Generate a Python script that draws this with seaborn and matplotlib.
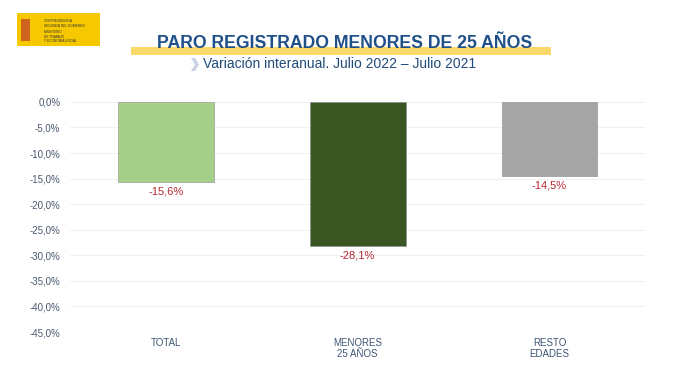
import pandas as pd
import seaborn as sns
import matplotlib.pyplot as plt
from matplotlib.patches import Rectangle, Polygon

categories = ["TOTAL", "MENORES\n25 AÑOS", "RESTO\nEDADES"]
values = [-15.6, -28.1, -14.5]
colors = ["#a6cf8b", "#3a5623", "#a5a5a5"]
yticks = [0, -5, -10, -15, -20, -25, -30, -35, -40, -45]

title = "PARO REGISTRADO MENORES DE 25 AÑOS"
subtitle = "Variación interanual. Julio 2022 – Julio 2021"

sns.set_style("white")
plt.rcParams["font.family"] = ["Liberation Sans", "DejaVu Sans"]

df = pd.DataFrame({"cat": categories, "val": values})

fig = plt.figure(figsize=(6.8, 3.83), dpi=100)
ax = fig.add_axes([0.103, 0.133, 0.846, 0.601])

sns.barplot(data=df, x="cat", y="val", hue="cat", palette=colors, saturation=1,
            legend=False, width=0.5, ax=ax, edgecolor="#8a8a8a", linewidth=0.4)

ax.set_xlim(-0.5, 2.5)
ax.set_ylim(-45, 0)
ax.set_yticks(yticks)
ax.set_yticklabels(["{:.1f}%".format(t).replace(".", ",") for t in yticks])
ax.yaxis.grid(True, color="#f0f0f0", linewidth=0.8)
ax.set_axisbelow(True)
for s in ax.spines.values():
    s.set_visible(False)
ax.tick_params(axis="y", labelsize=7, colors="#4a5a70", length=0, pad=7)
ax.tick_params(axis="x", labelsize=7, colors="#3d5575", length=0, pad=4)
ax.set_xlabel("")
ax.set_ylabel("")

for i, v in enumerate(values):
    ax.text(i, v - 0.9, "{:.1f}%".format(v).replace(".", ","), ha="center", va="top",
            fontsize=8, color="#b5282e")

# header: logo block
fig.patches.append(Rectangle((17 / 680, 1 - 46 / 383), 83 / 680, 33 / 383,
                             transform=fig.transFigure, facecolor="#f6c800", edgecolor="none"))
fig.patches.append(Rectangle((21 / 680, 1 - 41 / 383), 9 / 680, 22 / 383,
                             transform=fig.transFigure, facecolor="#c0392b", edgecolor="none", alpha=0.7))
fig.text(44 / 680, 1 - 19 / 383, "VICEPRESIDENCIA\nSEGUNDA DEL GOBIERNO", fontsize=2.3,
         color="#333333", va="top", linespacing=1.2)
fig.text(44 / 680, 1 - 30 / 383, "MINISTERIO\nDE TRABAJO\nY ECONOMÍA SOCIAL", fontsize=2.3,
         color="#333333", va="top", linespacing=1.2)

# title with yellow band
fig.patches.append(Rectangle((131 / 680, 1 - 55 / 383), 420 / 680, 8 / 383,
                             transform=fig.transFigure, facecolor="#fbd86a", edgecolor="none"))
fig.text(345 / 680, 1 - 44 / 383, title, ha="center", va="center", fontsize=12.7,
         fontweight="bold", color="#1f5088")
fig.patches.append(Polygon([(191 / 680, 1 - 58 / 383), (195 / 680, 1 - 58 / 383),
                            (199 / 680, 1 - 64.5 / 383), (195 / 680, 1 - 71 / 383),
                            (191 / 680, 1 - 71 / 383), (195 / 680, 1 - 64.5 / 383)],
                           closed=True, transform=fig.transFigure,
                           facecolor="#c9d4e3", edgecolor="none"))
fig.text(203 / 680, 1 - 64.5 / 383, subtitle, ha="left", va="center", fontsize=10,
         color="#1f4a7a")

fig.savefig("out.png", dpi=100)
